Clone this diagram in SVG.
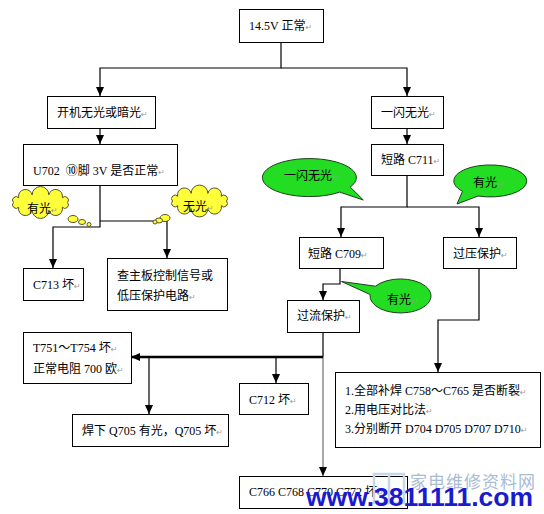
<svg xmlns="http://www.w3.org/2000/svg" width="544" height="514" viewBox="0 0 544 514">
<style>
.box{fill:#fff;stroke:#000;stroke-width:1}
.t{font-family:'Liberation Serif','Noto Sans CJK SC',serif;font-size:12px;fill:#000}
.r{font-family:'DejaVu Sans',sans-serif;font-size:8px;fill:#999}
.c{fill:none;stroke:#000;stroke-width:1.2}
.cloud{fill:#ffff3a;stroke:#55552a;stroke-width:1}
.bub{fill:#22dd22;stroke:#1e3e1e;stroke-width:1}
</style>
<defs>
<marker id="ah" viewBox="0 0 10 10" refX="10" refY="5" markerWidth="9" markerHeight="8" markerUnits="userSpaceOnUse" orient="auto" preserveAspectRatio="none"><path d="M0,0 L10,5 L0,10 z" fill="#000"/></marker>
<path id="cl" d="M27,0 A1,1 0 0,1 21.84,4.7 A1,1 0 0,1 8.34,7.61 A1,1 0 0,1 -8.34,7.61 A1,1 0 0,1 -21.84,4.7 A1,1 0 0,1 -27,0 A1,1 0 0,1 -21.84,-4.7 A1,1 0 0,1 -8.34,-7.61 A1,1 0 0,1 8.34,-7.61 A1,1 0 0,1 21.84,-4.7 A1,1 0 0,1 27,0 Z"/>
</defs>
<rect width="544" height="514" fill="#fff"/>

<g id="connectors">
<path class="c" d="M281,42 V68 H100 V96" marker-end="url(#ah)"/>
<path class="c" d="M281,68 H407 V96" marker-end="url(#ah)"/>
<path class="c" d="M100,128 V144" marker-end="url(#ah)"/>
<path class="c" d="M100,185 V227 H53 V268" marker-end="url(#ah)"/>
<path class="c" d="M100,221 H167 V258" marker-end="url(#ah)"/>
<path class="c" d="M407,128 V144" marker-end="url(#ah)"/>
<path class="c" d="M407,175 V207 H341 V237" marker-end="url(#ah)"/>
<path class="c" d="M407,207 H479 V237" marker-end="url(#ah)"/>
<path class="c" d="M340,268 V284 H323 V300" marker-end="url(#ah)"/>
<path class="c" d="M479,268 V320 H438 V372" marker-end="url(#ah)"/>
<path class="c" d="M323,332 V357"/>
<path class="c" d="M323,357 V476" style="stroke:#555;stroke-width:1" marker-end="url(#ah)"/>
<path class="c" d="M323,357 H131" style="stroke-width:2.5" marker-end="url(#ah)"/>
<path class="c" d="M276,357 V383" marker-end="url(#ah)"/>
<path class="c" d="M149,357 V414" marker-end="url(#ah)"/>
</g>

<g id="n-top"><rect class="box" x="239.5" y="9.5" width="84" height="33"/><text class="t" x="249" y="30">14.5V 正常<tspan class="r">↵</tspan></text></g>
<g id="n-kaiji"><rect class="box" x="47.5" y="96.5" width="108" height="32"/><text class="t" x="57" y="117">开机无光或暗光<tspan class="r">↵</tspan></text></g>
<g id="n-yishan"><rect class="box" x="371.5" y="96.5" width="72" height="32"/><text class="t" x="381" y="117">一闪无光<tspan class="r">↵</tspan></text></g>
<g id="n-u702"><rect class="box" x="23.5" y="144.5" width="154" height="41"/><text class="t" x="33" y="175">U702 <tspan dx="3">⑩</tspan>脚 3V 是否正常<tspan class="r">↵</tspan></text></g>
<g id="n-c713"><rect class="box" x="23.5" y="268.5" width="60" height="32"/><text class="t" x="33" y="288.5">C713 坏<tspan class="r">↵</tspan></text></g>
<g id="n-zhuban"><rect class="box" x="107.5" y="258.5" width="120" height="52"/><text class="t" x="117" y="280">查主板控制信号或</text><text class="t" x="117" y="300">低压保护电路<tspan class="r">↵</tspan></text></g>
<g id="n-c711"><rect class="box" x="371.5" y="144.5" width="72" height="31"/><text class="t" x="381" y="164">短路 C711<tspan class="r">↵</tspan></text></g>
<g id="n-c709"><rect class="box" x="299.5" y="237.5" width="84" height="31"/><text class="t" x="308" y="257.5">短路 C709<tspan class="r">↵</tspan></text></g>
<g id="n-guoya"><rect class="box" x="443.5" y="237.5" width="73" height="31"/><text class="t" x="453" y="257.5">过压保护<tspan class="r">↵</tspan></text></g>
<g id="n-guoliu"><rect class="box" x="287.5" y="300.5" width="72" height="32"/><text class="t" x="297" y="320">过流保护<tspan class="r">↵</tspan></text></g>
<g id="n-t751"><rect class="box" x="23.5" y="332.5" width="108" height="51"/><text class="t" x="33" y="351.5">T751～T754 坏<tspan class="r">↵</tspan></text><text class="t" x="33" y="372.5">正常电阻 700 欧<tspan class="r">↵</tspan></text></g>
<g id="n-q705"><rect class="box" x="72.5" y="414.5" width="156" height="32"/><text class="t" x="82" y="434.5">焊下 Q705 有光，Q705 坏<tspan class="r">↵</tspan></text></g>
<g id="n-c712"><rect class="box" x="239.5" y="383.5" width="69" height="31"/><text class="t" x="249" y="403.5">C712 坏<tspan class="r">↵</tspan></text></g>
<g id="n-buhan"><rect class="box" x="335.5" y="372.5" width="205" height="75"/><text class="t" x="345" y="394.5">1.全部补焊 C758～C765 是否断裂<tspan class="r">↵</tspan></text><text class="t" x="345" y="414">2.用电压对比法<tspan class="r">↵</tspan></text><text class="t" x="345" y="433">3.分别断开 D704 D705 D707 D710<tspan class="r">↵</tspan></text></g>
<g id="n-c766"><rect class="box" x="239.5" y="476.5" width="168" height="32"/><text class="t" x="249" y="496">C766 C768 C770 C772 坏<tspan class="r">↵</tspan></text></g>

<g id="cloud-youguang">
<use href="#cl" class="cloud" transform="translate(40.5,202.5)"/>
<ellipse class="cloud" cx="73" cy="219" rx="5" ry="3.5"/>
<ellipse class="cloud" cx="82" cy="222" rx="3.5" ry="2.5"/>
<circle class="cloud" cx="89" cy="224.5" r="2"/>
<text class="t" x="27" y="212.5">有光<tspan class="r">↵</tspan></text>
</g>
<g id="cloud-wuguang">
<use href="#cl" class="cloud" transform="translate(199.5,201)"/>
<ellipse class="cloud" cx="165" cy="218" rx="5" ry="3.5"/>
<ellipse class="cloud" cx="159" cy="220.5" rx="3.5" ry="2.5"/>
<circle class="cloud" cx="155" cy="222" r="2"/>
<text class="t" x="183" y="211">无光<tspan class="r">↵</tspan></text>
</g>
<g id="bubble-yishan">
<path class="bub" d="M350.2,187 A47,19 0 1,0 339.7,192.1 L363.3,200 Z"/>
<text class="t" x="284" y="179.5">一闪无光<tspan class="r">↵</tspan></text>
</g>
<g id="bubble-youguang1">
<path class="bub" d="M478,196 A36.5,16 0 1,0 462.5,191.3 L457,204 Z"/>
<text class="t" x="473" y="186.5">有光<tspan class="r">↵</tspan></text>
</g>
<g id="bubble-youguang2">
<path class="bub" d="M375.5,286.2 A30.5,17 0 1,1 370.1,294.5 L341.5,281.5 Z"/>
<text class="t" x="387" y="303.5">有光<tspan class="r">↵</tspan></text>
</g>

<g id="watermark">
<path d="M374,474 H404 V503 H374 Z M389,474 V503" fill="none" stroke="#c8d6e6" stroke-width="2.5"/>
<text x="410" y="488" font-family="'Noto Sans CJK SC',sans-serif" font-size="17" fill="#a9bcd2" letter-spacing="1">家电维修资料网</text>
<text x="306" y="506" font-family="'Liberation Sans',sans-serif" font-weight="bold" font-size="26" fill="#1a1ad0" textLength="227" lengthAdjust="spacingAndGlyphs">www.3811111.com</text>
</g>
</svg>
